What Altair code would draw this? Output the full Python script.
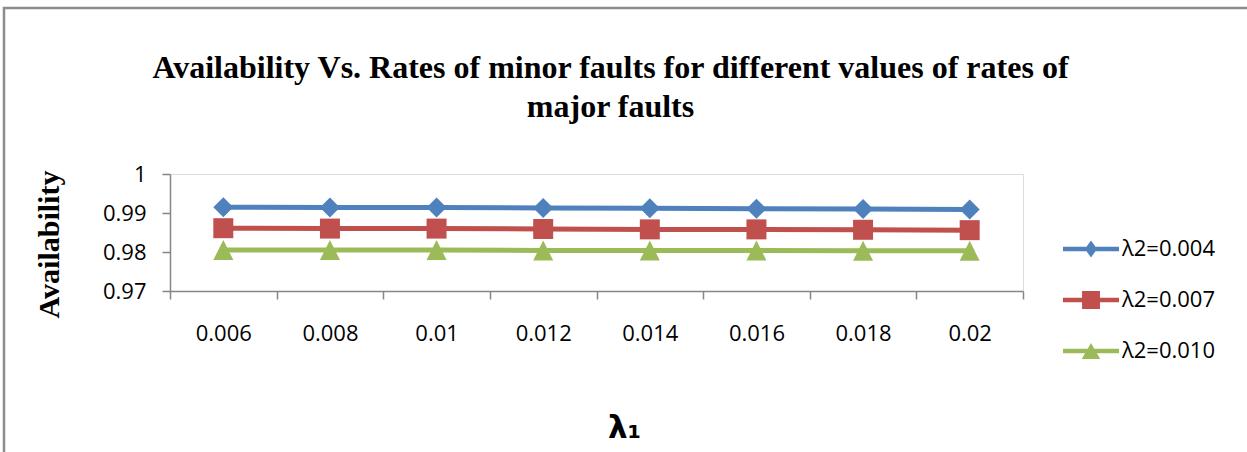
import altair as alt
import pandas as pd

# ---- data ----
categories = ["0.006", "0.008", "0.01", "0.012", "0.014", "0.016", "0.018", "0.02"]
series_names = ["λ2=0.004", "λ2=0.007", "λ2=0.010"]
avail_004 = [0.9915, 0.9914, 0.9914, 0.9913, 0.9912, 0.9911, 0.9910, 0.9909]
avail_007 = [0.9861, 0.9860, 0.9860, 0.9859, 0.9858, 0.9858, 0.9857, 0.9856]
avail_010 = [0.9805, 0.9805, 0.9805, 0.9804, 0.9804, 0.9804, 0.9803, 0.9803]
y_ticks = [0.97, 0.98, 0.99, 1.0]

colors = ["#4F81BD", "#C0504D", "#9BBB59"]

rows = []
for name, vals in zip(series_names, [avail_004, avail_007, avail_010]):
    for c, v in zip(categories, vals):
        rows.append({"lambda1": c, "series": name, "availability": v})
df = pd.DataFrame(rows)

# marker paths (unit space) for plotted points
point_paths = [
    "M0,-1L1,0L0,1L-1,0Z",
    "M-1,-1L1,-1L1,1L-1,1Z",
    "M0,-1L1,1L-1,1Z",
]
# legend symbols: short line with marker on it
legend_paths = [
    "M-1,-0.078L1,-0.078L1,0.078L-1,0.078Z M0,-0.3L0.22,0L0,0.3L-0.22,0Z",
    "M-1,-0.078L1,-0.078L1,0.078L-1,0.078Z M-0.32,-0.32L0.32,-0.32L0.32,0.32L-0.32,0.32Z",
    "M-1,-0.078L1,-0.078L1,0.078L-1,0.078Z M0,-0.29L0.33,0.29L-0.33,0.29Z",
]

axis_gray = "#868686"

x_enc = alt.X(
    "lambda1:N",
    sort=categories,
    bandPosition=0.5,
    scale=alt.Scale(type="band", domain=categories, paddingInner=0, paddingOuter=0),
    axis=alt.Axis(
        tickBand="extent",
        labelAngle=0,
        grid=False,
        domainColor=axis_gray,
        domainWidth=1.5,
        tickColor=axis_gray,
        tickWidth=1.5,
        tickSize=8,
        labelFont="Open Sans",
        labelFontSize=22,
        labelColor="black",
        labelPadding=24,
        title="λ₁",
        titleFont="DejaVu Sans",
        titleFontSize=31,
        titleFontWeight="bold",
        titleColor="black",
        titleX=454,
        titleY=146,
        titleAlign="center",
        titleBaseline="alphabetic",
    ),
)
y_enc = alt.Y(
    "availability:Q",
    scale=alt.Scale(domain=[0.97, 1.0], nice=False, zero=False),
    axis=alt.Axis(
        values=y_ticks,
        format=".2~f",
        grid=False,
        domainColor=axis_gray,
        domainWidth=1.5,
        tickColor=axis_gray,
        tickWidth=1.5,
        tickSize=8,
        labelFont="Open Sans",
        labelFontSize=22,
        labelColor="black",
        labelPadding=16,
        title="Availability",
        titleFont="Liberation Serif",
        titleFontSize=30,
        titleFontWeight="bold",
        titleColor="black",
        titleAngle=270,
        titleX=-121,
        titleY=70,
        titleAlign="center",
        titleBaseline="middle",
    ),
)

base = alt.Chart(df)

frame = alt.Chart(pd.DataFrame({"k": [0]})).mark_rect(
    filled=False, stroke="#8c8c8c", strokeWidth=2.5, clip=False
).encode(
    x=alt.value(-166), x2=alt.value(1200), y=alt.value(-166), y2=alt.value(400)
)

lines = base.mark_line(strokeWidth=5).encode(
    x=x_enc,
    y=y_enc,
    color=alt.Color("series:N", sort=series_names,
                    scale=alt.Scale(domain=series_names, range=colors), legend=None),
)

points = base.mark_point(filled=True, size=400, opacity=1).encode(
    x=x_enc,
    y=y_enc,
    color=alt.Color("series:N", sort=series_names,
                    scale=alt.Scale(domain=series_names, range=colors), legend=None),
    shape=alt.Shape("series:N", sort=series_names,
                    scale=alt.Scale(domain=series_names, range=point_paths), legend=None),
)

legend_props = dict(
    orient="none", legendX=893, legendY=47, title=None,
    symbolSize=3136, symbolOpacity=1, symbolStrokeWidth=0,
    labelFont="Open Sans", labelFontSize=22, labelColor="black",
    labelOffset=3, rowPadding=12, padding=0,
)

legend_layer = base.mark_point(filled=True, size=10, opacity=0).encode(
    x=x_enc,
    y=y_enc,
    color=alt.Color("series:N", sort=series_names,
                    scale=alt.Scale(domain=series_names, range=colors),
                    legend=alt.Legend(**legend_props)),
    shape=alt.Shape("series:N", sort=series_names,
                    scale=alt.Scale(domain=series_names, range=legend_paths),
                    legend=alt.Legend(**legend_props)),
)

chart = alt.layer(frame, lines, points, legend_layer).resolve_scale(
    color="independent", shape="independent"
).properties(
    width=853,
    height=117,
    padding={"left": 170, "top": 174, "right": 224, "bottom": 161},
    autosize=alt.AutoSizeParams(type="none"),
    title=alt.TitleParams(
        text=["Availability Vs. Rates of minor faults for different values of rates of",
              "major faults"],
        font="Liberation Serif",
        fontSize=32,
        fontWeight="bold",
        color="black",
        anchor="middle",
        frame="group",
        dx=14,
        baseline="alphabetic",
        offset=-142,
        lineHeight=39,
    ),
).configure_view(stroke=None).configure(background="white")

chart.save("out.html", embed_options={"renderer": "svg", "actions": False})
